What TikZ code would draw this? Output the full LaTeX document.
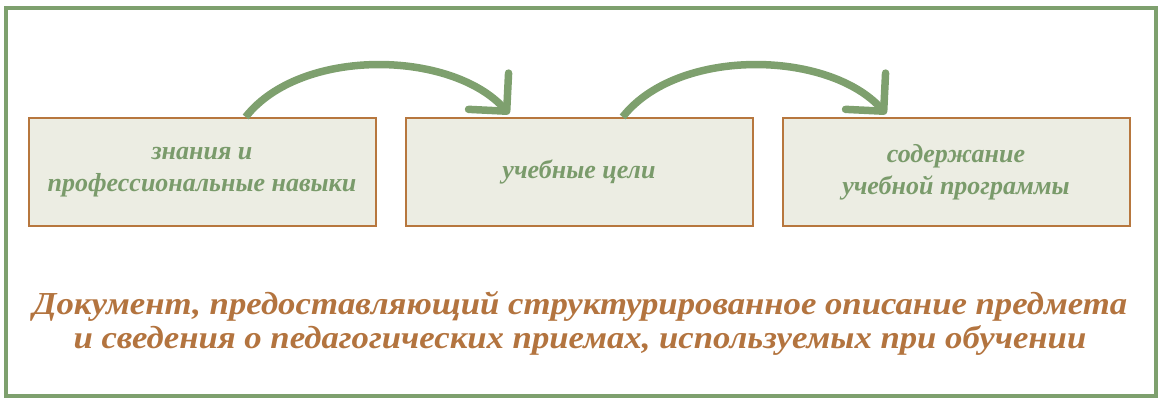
\documentclass[tikz,border=0pt]{standalone}
\usepackage{fontspec}
\setmainfont{Liberation Serif}
\usetikzlibrary{arrows.meta,calc}
\definecolor{frgreen}{HTML}{7EA06E}
\definecolor{txgreen}{HTML}{7A9B6B}
\definecolor{brownln}{HTML}{B7773E}
\definecolor{browntx}{HTML}{B3743F}
\definecolor{boxfill}{HTML}{ECEDE3}
\begin{document}
\begin{tikzpicture}[x=1pt,y=-1pt,
  stepbox/.style={draw=brownln, line width=2pt, fill=boxfill, minimum width=347pt, minimum height=108pt, inner sep=0pt, align=center, text=txgreen, font=\fontsize{26}{32}\selectfont\bfseries\itshape},
  flow/.style={draw=frgreen, line width=7.5pt, -{Straight Barb[length=27pt,width=54pt,round]}},
  desc/.style={align=center, text=browntx, inner sep=0pt, font=\fontsize{32}{34}\selectfont\bfseries\itshape\addfontfeature{FakeStretch=1.085}}
]
\useasboundingbox (0,0) rectangle (1166,406);
\node[draw=frgreen, line width=4.5pt, minimum width=1150pt, minimum height=388pt, inner sep=0pt] (frame) at (581,202) {};
\node[stepbox] (b1) at (202,172) {знания и\\профессиональные навыки};
\node[stepbox] (b2) at (579,172) {учебные цели};
\node[stepbox] (b3) at (956,172) {содержание\\учебной программы};
\coordinate (s1) at ($(b1.north west)!0.625!(b1.north east)$);
\coordinate (e1) at ($(b2.north west)!0.3!(b2.north east)+(0,-3)$);
\coordinate (s2) at ($(b2.north west)!0.625!(b2.north east)$);
\coordinate (e2) at ($(b3.north west)!0.3!(b3.north east)+(0,-3)$);
\draw[flow] (s1) .. controls +(55,-70) and +(-58,-64) .. (e1);
\draw[flow] (s2) .. controls +(55,-70) and +(-58,-64) .. (e2);
\node[desc] (txt) at (580,323) {Документ, предоставляющий структурированное описание предмета\\и сведения о педагогических приемах, используемых при обучении};
\end{tikzpicture}
\end{document}
